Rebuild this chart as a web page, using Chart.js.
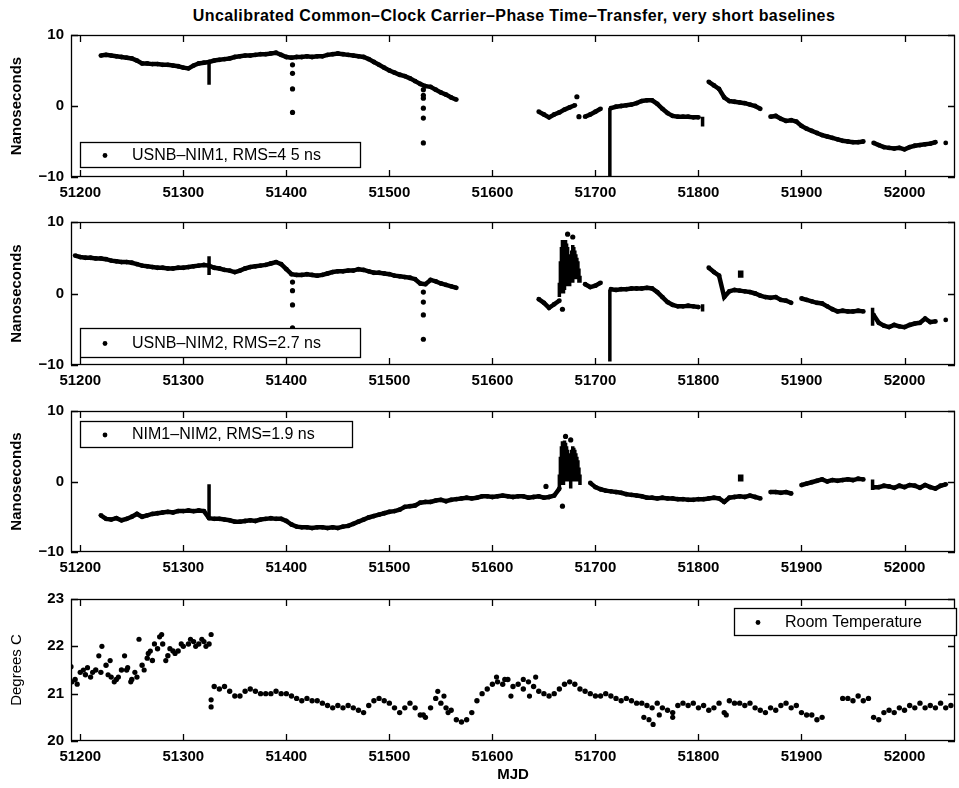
<!DOCTYPE html>
<html>
<head>
<meta charset="utf-8">
<script src="https://cdn.jsdelivr.net/npm/chart.js@4.4.0/dist/chart.umd.min.js"></script>
<style>
  body { margin: 0; background: #fff; }
  #wrap { position: relative; width: 959px; height: 788px; }
  #wrap canvas { position: absolute; left: 0; }
  #title { position: absolute; left: 71px; width: 886px; top: 7px; text-align: center;
           font: bold 16px "Liberation Sans", Arial, sans-serif; letter-spacing: 0.4px; color: #000; }
</style>
</head>
<body>
<div id="wrap">
  <div id="title">Uncalibrated Common&#8211;Clock Carrier&#8211;Phase Time&#8211;Transfer, very short baselines</div>
  <canvas id="c1" width="959" height="200" style="top:0px"></canvas>
  <canvas id="c2" width="959" height="188" style="top:200px"></canvas>
  <canvas id="c3" width="959" height="188" style="top:388px"></canvas>
  <canvas id="c4" width="959" height="212" style="top:576px"></canvas>
</div>
<script>
// ---- data ----
const mjd = [
  51190,51195,51200,51205,51210,51215,51220,51225,51230,51235,
  51240,51245,51250,51255,51260,51265,51270,51275,51280,51285,
  51290,51295,51300,51305,51310,51315,51320,51325,51330,51335,
  51340,51345,51350,51355,51360,51365,51370,51375,51380,51385,
  51390,51395,51400,51405,51410,51415,51420,51425,51430,51435,
  51440,51445,51450,51455,51460,51465,51470,51475,51480,51485,
  51490,51495,51500,51505,51510,51515,51520,51525,51530,51535,
  51540,51545,51550,51555,51560,51565,51570,51575,51580,51585,
  51590,51595,51600,51605,51610,51615,51620,51625,51630,51635,
  51640,51645,51650,51655,51660,51665,51670,51675,51680,51685,
  51690,51695,51700,51705,51710,51715,51720,51725,51730,51735,
  51740,51745,51750,51755,51760,51765,51770,51775,51780,51785,
  51790,51795,51800,51805,51810,51815,51820,51825,51830,51835,
  51840,51845,51850,51855,51860,51865,51870,51875,51880,51885,
  51890,51895,51900,51905,51910,51915,51920,51925,51930,51935,
  51940,51945,51950,51955,51960,51965,51970,51975,51980,51985,
  51990,51995,52000,52005,52010,52015,52020,52025,52030,52035,
  52040,52045
];

// USNB-NIM1 (ns)
const usnbNim1 = [
  null,null,null,null,null,null,7.1,7.2,7.1,7.0,
  6.9,6.8,6.7,6.4,6.0,6.0,5.9,5.9,5.8,5.8,
  5.7,5.6,5.4,5.3,5.7,6.0,6.1,6.2,6.4,6.5,
  6.6,6.7,6.9,7.0,7.1,7.1,7.2,7.3,7.3,7.4,
  7.5,7.2,6.9,6.8,6.9,6.9,7.0,6.9,7.0,7.0,
  7.2,7.3,7.4,7.3,7.2,7.1,7.0,6.9,6.6,6.2,
  5.8,5.4,5.0,4.7,4.4,4.2,3.9,3.5,3.1,2.8,
  2.7,2.3,1.9,1.6,1.2,0.9,null,null,null,null,
  null,null,null,null,null,null,null,null,null,null,
  null,-0.8,-1.2,-1.6,-1.2,-0.9,-0.5,-0.2,0.1,null,
  -1.5,-1.2,-0.8,-0.4,null,-0.3,-0.1,0.0,0.1,0.2,
  0.4,0.7,0.8,0.8,0.3,-0.4,-1.0,-1.4,-1.5,-1.5,
  -1.5,-1.6,-1.6,null,3.4,2.9,2.4,1.2,0.7,0.6,
  0.5,0.4,0.2,0.0,-0.4,null,-1.5,-1.4,-1.8,-2.1,
  -2.0,-2.2,-2.8,-3.2,-3.5,-3.8,-4.1,-4.3,-4.5,-4.7,
  -4.9,-5.0,-5.1,-5.1,-5.0,null,-5.2,-5.5,-5.8,-5.9,
  -6.0,-5.9,-6.1,-5.8,-5.6,-5.5,-5.4,-5.3,-5.1,null,
  -5.2,null
];
const nim1DotX = [51406,51406,51406,51406,51533,51533,51533,51533,51533,51533,51682,51684];
const nim1DotY = [5.8,4.6,2.4,-0.9,2.3,1.5,1.1,-0.3,-1.7,-5.2,1.3,-1.5];
const nim1SpikeX = [51325,51714,51804];
const nim1SpikeLo = [3.0,-10,-2.9];
const nim1SpikeHi = [6.3,-0.3,-1.5];

// USNB-NIM2 (ns)
const usnbNim2 = [
  null,5.3,5.1,5.0,5.0,4.9,4.9,4.8,4.6,4.5,
  4.4,4.4,4.3,4.1,3.9,3.8,3.7,3.6,3.6,3.5,
  3.5,3.6,3.6,3.7,3.8,3.9,4.0,3.9,3.6,3.5,
  3.3,3.2,3.0,3.2,3.5,3.7,3.8,3.9,4.0,4.2,
  4.4,4.1,3.4,2.7,2.6,2.6,2.7,2.6,2.5,2.6,
  2.8,3.0,3.1,3.1,3.2,3.2,3.4,3.3,3.1,2.9,
  2.9,2.8,2.7,2.5,2.4,2.3,2.2,2.0,1.4,1.3,
  1.9,1.7,1.4,1.2,1.0,0.8,null,null,null,null,
  null,null,null,null,null,null,null,null,null,null,
  null,-0.8,-1.3,-2.0,-1.5,-1.0,null,null,null,null,
  1.3,0.9,1.1,1.5,null,0.6,0.5,0.6,0.6,0.7,
  0.7,0.7,0.8,0.7,0.2,-0.5,-1.2,-1.6,-1.8,-1.8,
  -1.7,-1.8,-1.9,null,3.6,3.0,2.5,-0.5,0.3,0.5,
  0.4,0.3,0.2,0.0,-0.3,-0.5,-0.6,-0.5,-0.9,-1.0,
  -1.3,null,-0.7,-0.9,-1.1,-1.3,-1.4,-1.8,-2.2,-2.5,
  -2.4,-2.5,-2.5,-2.4,-2.5,null,-3.0,-4.1,-4.5,-4.7,
  -4.4,-4.6,-4.7,-4.4,-4.2,-4.1,-3.5,-4.0,-3.9,null,
  -3.7,null
];
const nim2DotX = [51406,51406,51406,51406,51533,51533,51533,51533,51673,51678,51668];
const nim2DotY = [1.6,0.4,-1.6,-4.8,0.2,-1.2,-3.0,-6.4,8.3,7.9,-2.2];
const nim2SpikeX = [51325,51714,51804,51840,51842,51969,
  51665,51666,51667,51668,51669,51670,51671,51672,51673,51674,51675,
  51676,51677,51678,51679,51680,51681,51682,51683,51684,51685];
const nim2SpikeLo = [2.6,-9.5,-2.5,2.2,2.2,-4.5,
  -0.5,0,0.5,1,0,0.5,1,1.5,1,1.5,1,
  1.5,2,1.5,2,2.5,2,2.5,2,1.5,1.5];
const nim2SpikeHi = [5.2,0.5,-1.5,3.2,3.2,-2.0,
  1.5,4.5,6.5,7.5,7.0,7.3,7.5,7.0,6.5,5.5,4.5,
  3.5,6.0,6.8,6.5,6.0,5.5,5.0,4.5,3.5,2.5];

// NIM1-NIM2 (ns)
const nim1Nim2 = [
  null,null,null,null,null,null,-4.8,-5.3,-5.4,-5.2,
  -5.5,-5.3,-5.0,-4.6,-5.0,-4.8,-4.6,-4.5,-4.4,-4.3,
  -4.4,-4.2,-4.2,-4.1,-4.2,-4.1,-4.2,-5.2,-5.3,-5.3,
  -5.4,-5.5,-5.7,-5.7,-5.6,-5.5,-5.6,-5.4,-5.3,-5.2,
  -5.3,-5.3,-5.6,-6.1,-6.4,-6.5,-6.5,-6.6,-6.5,-6.5,
  -6.6,-6.5,-6.6,-6.4,-6.3,-6.0,-5.7,-5.4,-5.1,-4.9,
  -4.7,-4.5,-4.3,-4.2,-4.0,-3.6,-3.5,-3.4,-3.0,-2.9,
  -2.9,-2.7,-2.6,-2.8,-2.6,-2.5,-2.4,-2.3,-2.4,-2.3,
  -2.1,-2.1,-2.2,-2.1,-2.0,-2.1,-2.2,-2.1,-2.1,-2.3,
  -2.2,-2.1,-2.3,-2.2,-2.0,-1.0,null,null,null,null,
  null,-0.2,-0.8,-1.1,-1.3,-1.4,-1.5,-1.6,-1.8,-1.9,
  -2.0,-2.1,-2.3,-2.3,-2.4,-2.3,-2.4,-2.4,-2.5,-2.5,
  -2.6,-2.6,-2.5,-2.5,-2.4,-2.3,-2.4,-2.9,-2.3,-2.2,
  -2.1,-2.2,-2.0,-2.2,-2.4,null,-1.5,-1.5,-1.6,-1.5,
  -1.7,null,-0.5,-0.3,-0.1,0.1,0.3,0.0,0.2,0.1,
  0.2,0.3,0.2,0.4,0.3,null,-0.8,-0.8,-0.6,-0.7,
  -0.9,-0.6,-0.8,-0.5,-0.6,-0.9,-0.5,-0.8,-1.0,-0.6,
  -0.4,null
];
const n12DotX = [51652,51668,51671,51676];
const n12DotY = [-0.7,-3.5,6.4,5.9];
const n12SpikeX = [51325,51969,51840,51842,
  51665,51666,51667,51668,51669,51670,51671,51672,51673,51674,51675,
  51676,51677,51678,51679,51680,51681,51682,51683,51684,51685];
const n12SpikeLo = [-4.9,-1.2,0,0,
  -1,-0.5,-0.5,0,-0.5,0,0,0.5,0,0.5,0,
  -1,0.5,0,0.5,0,0.5,0,0,0,-0.5];
const n12SpikeHi = [-0.4,0.3,1.0,1.0,
  1,3.5,5.0,5.7,5.5,5.8,5.5,5.0,4.5,4.0,3.0,
  1.5,4.5,5.0,4.8,4.5,4.0,3.5,3.0,2.0,1.0];

// Room temperature (deg C)
const roomTemp = [
  null,21.3,21.45,21.4,21.35,21.5,21.45,21.6,21.35,21.3,
  21.5,21.5,21.3,21.35,21.6,21.75,21.7,21.95,22.05,21.8,
  21.9,21.9,22.0,22.05,22.1,22.05,22.1,22.05,21.15,21.1,
  21.15,21.05,20.95,20.95,21.05,21.1,21.05,21.0,21.0,21.0,
  21.05,21.0,21.0,20.95,20.9,20.85,20.9,20.85,20.85,20.8,
  20.75,20.7,20.75,20.7,20.75,20.7,20.65,20.6,20.75,20.85,
  20.9,20.85,20.8,20.7,20.6,20.7,20.8,20.7,20.55,20.5,
  20.7,20.9,20.8,20.7,20.65,20.45,20.4,20.45,20.6,20.85,
  21.0,21.1,21.2,21.25,21.2,21.3,21.15,21.2,21.1,21.25,
  21.15,21.05,21.0,20.95,21.0,21.1,21.2,21.25,21.2,21.1,
  21.05,21.0,20.95,20.95,21.0,20.95,20.9,20.85,20.9,20.85,
  20.8,20.8,20.75,20.7,20.8,20.7,20.65,20.6,20.75,20.8,
  20.75,20.8,20.7,20.75,20.65,20.7,20.8,20.6,20.85,20.8,
  20.8,20.75,20.8,20.7,20.65,20.6,20.7,20.65,20.75,20.8,
  20.7,20.75,20.6,20.55,20.55,20.45,20.5,null,null,null,
  20.9,20.9,20.85,20.95,20.85,20.9,20.5,20.45,20.6,20.65,
  20.6,20.7,20.65,20.75,20.7,20.8,20.7,20.75,20.7,20.8,
  20.7,20.75
];
const tempExtraX = [51191,51192,51197,51203,51207,51212,51218,51221,51227,51229,
  51233,51237,51243,51246,51249,51253,51257,51262,51266,51268,
  51272,51277,51279,51283,51287,51292,51298,51307,51312,51318,
  51322,51327,51327,51327,51533,51547,51553,51557,51604,51612,
  51618,51630,51636,51642,51747,51752,51756,51762,51775,51827];
const tempExtraY = [21.57,21.25,21.2,21.5,21.55,21.45,21.8,22.0,21.4,21.7,
  21.25,21.35,21.8,21.55,21.25,21.45,22.15,21.5,21.85,21.9,
  22.05,22.2,22.25,21.7,21.95,21.85,22.05,22.15,22.0,22.15,
  22.0,22.25,20.87,20.72,20.55,21.05,20.95,20.6,21.35,21.3,
  20.95,21.3,20.95,21.35,20.5,20.45,20.35,20.55,20.5,20.55];

const nsTicks = [-10, 0, 10];
const degTicks = [20, 21, 22, 23];

// ---- helpers ----
Chart.defaults.font.family = '"Liberation Sans", Arial, sans-serif';
Chart.defaults.color = '#000';

function pts(xs, ys) {
  return xs.map((x, i) => ({ x: x, y: ys[i] }));
}
// vertical streaks: lo->hi at one MJD, broken by a null
function streaks(xs, lo, hi) {
  const d = [];
  xs.forEach((x, i) => { d.push({ x: x, y: lo[i] }, { x: x, y: hi[i] }, { x: x, y: null }); });
  return d;
}

// box around the plot with inward ticks on all four sides (matlab look)
const boxTicks = {
  id: 'boxTicks',
  afterDraw(chart) {
    const { ctx, chartArea: a } = chart;
    const x = chart.scales.x, y = chart.scales.y;
    ctx.save();
    ctx.strokeStyle = '#000';
    ctx.lineWidth = 1.3;
    ctx.strokeRect(a.left + 0.5, a.top + 0.5, a.right - a.left - 1, a.bottom - a.top - 1);
    ctx.beginPath();
    x.ticks.forEach(t => {
      const px = Math.round(x.getPixelForValue(t.value)) + 0.5;
      ctx.moveTo(px, a.bottom); ctx.lineTo(px, a.bottom - 7);
      ctx.moveTo(px, a.top); ctx.lineTo(px, a.top + 7);
    });
    y.ticks.forEach(t => {
      const py = Math.round(y.getPixelForValue(t.value)) + 0.5;
      ctx.moveTo(a.left, py); ctx.lineTo(a.left + 7, py);
      ctx.moveTo(a.right, py); ctx.lineTo(a.right - 7, py);
    });
    ctx.stroke();
    ctx.restore();
  }
};

// boxed legend with a dot marker
const boxLegend = {
  id: 'boxLegend',
  afterDraw(chart, args, o) {
    if (!o.text) return;
    const ctx = chart.ctx;
    ctx.save();
    ctx.fillStyle = '#fff';
    ctx.fillRect(o.left, o.top, o.width, o.height);
    ctx.strokeStyle = '#000';
    ctx.lineWidth = 1.3;
    ctx.strokeRect(o.left + 0.5, o.top + 0.5, o.width, o.height);
    const cy = o.top + o.height / 2 + 1;
    ctx.fillStyle = '#000';
    ctx.beginPath();
    ctx.arc(o.dotX, cy, 2.4, 0, Math.PI * 2);
    ctx.fill();
    ctx.font = '16px "Liberation Sans", Arial, sans-serif';
    ctx.textBaseline = 'middle';
    ctx.fillText(o.text, o.textX, cy);
    ctx.restore();
  }
};

function makeChart(id, cfg) {
  const datasets = [];
  if (cfg.line) datasets.push({
    data: pts(mjd, cfg.line), showLine: true, spanGaps: false,
    borderColor: '#000', borderWidth: 4.5, pointRadius: 2.4,
    pointBackgroundColor: '#000', pointBorderWidth: 0
  });
  if (cfg.dotsOnly) datasets.push({
    data: pts(mjd, cfg.dotsOnly), showLine: false,
    pointRadius: 2.7, pointBackgroundColor: '#000', pointBorderWidth: 0
  });
  if (cfg.spikes) datasets.push({
    data: cfg.spikes, showLine: true, spanGaps: false,
    borderColor: '#000', borderWidth: 3.5, pointRadius: 0
  });
  if (cfg.dots) datasets.push({
    data: cfg.dots, showLine: false,
    pointRadius: 2.6, pointBackgroundColor: '#000', pointBorderWidth: 0
  });

  return new Chart(document.getElementById(id), {
    type: 'scatter',
    data: { datasets: datasets },
    options: {
      responsive: false,
      devicePixelRatio: 1,
      animation: false,
      events: [],
      layout: { padding: { top: cfg.top, right: 2, left: 0, bottom: 0 } },
      plugins: {
        legend: { display: false },
        tooltip: { enabled: false },
        boxLegend: cfg.legend
      },
      scales: {
        x: {
          type: 'linear', min: 51191, max: 52049,
          grid: { display: false, drawTicks: false },
          border: { display: false },
          ticks: { stepSize: 100, includeBounds: false, padding: 7,
                   font: { size: 15, weight: 'bold' }, maxRotation: 0,
                   callback: v => String(v) },
          title: { display: !!cfg.xTitle, text: cfg.xTitle || '',
                   font: { size: 15, weight: 'bold' }, padding: { top: 0, bottom: 4 } },
          afterFit: s => { s.height = cfg.xh; }
        },
        y: {
          min: cfg.ticks[0], max: cfg.ticks[cfg.ticks.length - 1],
          grid: { display: false, drawTicks: false },
          border: { display: false },
          afterBuildTicks: s => { s.ticks = cfg.ticks.map(v => ({ value: v })); },
          ticks: { padding: 7, font: { size: 15, weight: 'bold' },
                   callback: v => String(v).replace('-', '\u2212') },
          title: { display: true, text: cfg.yTitle,
                   font: { size: 15, weight: cfg.yBold ? 'bold' : 'normal' },
                   padding: { top: 8, bottom: 0 } },
          afterFit: s => { s.width = 71; }
        }
      }
    },
    plugins: [boxTicks, boxLegend]
  });
}

// panel 1
makeChart('c1', {
  top: 35, xh: 23, ticks: nsTicks, yTitle: 'Nanoseconds', yBold: true,
  line: usnbNim1,
  spikes: streaks(nim1SpikeX, nim1SpikeLo, nim1SpikeHi),
  dots: pts(nim1DotX, nim1DotY),
  legend: { text: 'USNB\u2013NIM1, RMS=4 5 ns', left: 80, top: 142, width: 280, height: 25, dotX: 105, textX: 132 }
});

// panel 2
makeChart('c2', {
  top: 22, xh: 23, ticks: nsTicks, yTitle: 'Nanoseconds', yBold: true,
  line: usnbNim2,
  spikes: streaks(nim2SpikeX, nim2SpikeLo, nim2SpikeHi),
  dots: pts(nim2DotX, nim2DotY),
  legend: { text: 'USNB\u2013NIM2, RMS=2.7 ns', left: 80, top: 128, width: 280, height: 29, dotX: 105, textX: 132 }
});

// panel 3
makeChart('c3', {
  top: 23, xh: 24, ticks: nsTicks, yTitle: 'Nanoseconds', yBold: true,
  line: nim1Nim2,
  spikes: streaks(n12SpikeX, n12SpikeLo, n12SpikeHi),
  dots: pts(n12DotX, n12DotY),
  legend: { text: 'NIM1\u2013NIM2, RMS=1.9 ns', left: 80, top: 33, width: 272, height: 26, dotX: 105, textX: 132 }
});

// panel 4 - room temperature
makeChart('c4', {
  top: 23, xh: 47, ticks: degTicks, yTitle: 'Degrees C', yBold: false, xTitle: 'MJD',
  dotsOnly: roomTemp,
  dots: pts(tempExtraX, tempExtraY),
  legend: { text: 'Room Temperature', left: 734, top: 32, width: 222, height: 27, dotX: 758, textX: 785 }
});
</script>
</body>
</html>
